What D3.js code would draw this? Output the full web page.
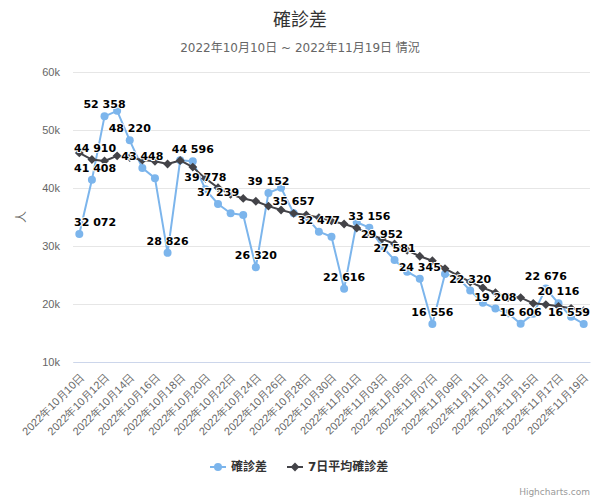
<!DOCTYPE html>
<html><head><meta charset="utf-8">
<script src="https://cdn.jsdelivr.net/npm/d3@7"></script>
<style>
body{margin:0;background:#fff;}
svg{display:block;font-family:"DejaVu Sans","Noto Sans CJK TC",sans-serif;}
</style></head><body>
<svg id="c" width="600" height="500"></svg>
<script>
const categories = ["2022年10月10日","2022年10月11日","2022年10月12日","2022年10月13日","2022年10月14日","2022年10月15日","2022年10月16日","2022年10月17日","2022年10月18日","2022年10月19日","2022年10月20日","2022年10月21日","2022年10月22日","2022年10月23日","2022年10月24日","2022年10月25日","2022年10月26日","2022年10月27日","2022年10月28日","2022年10月29日","2022年10月30日","2022年10月31日","2022年11月01日","2022年11月02日","2022年11月03日","2022年11月04日","2022年11月05日","2022年11月06日","2022年11月07日","2022年11月08日","2022年11月09日","2022年11月10日","2022年11月11日","2022年11月12日","2022年11月13日","2022年11月14日","2022年11月15日","2022年11月16日","2022年11月17日","2022年11月18日","2022年11月19日"];
const daily = [32072,41408,52358,53300,48220,43448,41700,28826,44800,44596,39778,37239,35640,35345,26320,39152,40050,35657,35000,32477,31600,22616,34090,33156,29952,27581,25570,24345,16556,25170,24600,22320,20224,19208,18400,16606,18300,22676,20116,17810,16559];
const avg7 = [46050,44910,44655,45550,45250,44828,44600,44130,44750,43600,41650,40050,38900,38200,37720,36880,36210,35630,35350,34900,34320,33790,33100,32100,31230,30350,29250,28230,27450,26100,24950,23800,22800,21950,21100,21100,20120,19900,19600,19250,18850];
const dailyLabelIdx = [0,1,2,4,5,7,9,10,11,14,15,17,19,21,23,24,25,27,28,31,33,35,37,38,40];
const avgLabelIdx = [1];
const yTicks = [10000,20000,30000,40000,50000,60000];
const seriesNames = ["確診差","7日平均確診差"];
const titleText = "確診差";
const subtitleText = "2022年10月10日 ~ 2022年11月19日 情況";
const yTitle = "人";

const svg = d3.select("#c");
const L = 73, R = 590, T = 72, B = 362;
const x = d3.scalePoint().domain(categories).range([L, R]).padding(0.5);
const y = d3.scaleLinear().domain([10000, 60000]).range([B, T]);
const c1 = "#7cb5ec", c2 = "#434348";

svg.append("text").attr("x", 300).attr("y", 26).attr("text-anchor", "middle")
  .attr("fill", "#333").style("font-size", "18px").text(titleText);
svg.append("text").attr("x", 300).attr("y", 52).attr("text-anchor", "middle")
  .attr("fill", "#666").style("font-size", "12px").text(subtitleText);

// grid + y axis
const yAxis = d3.axisLeft(y).tickValues(yTicks).tickSize(-(R - L)).tickFormat(d => (d / 1000) + "k");
const gy = svg.append("g").attr("transform", `translate(${L},0)`).call(yAxis);
gy.select(".domain").remove();
gy.selectAll(".tick line").attr("stroke", "#e6e6e6");
gy.selectAll(".tick text").attr("fill", "#666").style("font-size", "11px").attr("x", -13);
svg.append("text").attr("transform", `translate(26,${(T + B) / 2}) rotate(-90)`)
  .attr("text-anchor", "middle").attr("fill", "#666").style("font-size", "12px").text(yTitle);

// x axis
const xAxis = d3.axisBottom(x).tickSize(0).tickValues(categories.filter((d, i) => i % 2 === 0));
const gx = svg.append("g").attr("transform", `translate(0,${B})`).call(xAxis);
gx.select(".domain").attr("stroke", "#ccd6eb");
gx.selectAll(".tick text").attr("fill", "#666").style("font-size", "11px")
  .attr("text-anchor", "end").attr("dy", null).attr("y", 0)
  .attr("transform", "translate(5,16) rotate(-45)");

function drawSeries(vals, color, shape) {
  const line = d3.line().x((d, i) => x(categories[i])).y(d => y(d));
  svg.append("path").datum(vals).attr("d", line).attr("fill", "none")
    .attr("stroke", color).attr("stroke-width", 2).attr("stroke-linejoin", "round");
  const g = svg.append("g");
  if (shape === "circle") {
    g.selectAll("circle").data(vals).join("circle")
      .attr("cx", (d, i) => x(categories[i])).attr("cy", d => y(d)).attr("r", 4).attr("fill", color);
  } else {
    g.selectAll("path").data(vals).join("path")
      .attr("d", d3.symbol(d3.symbolDiamond2, 50))
      .attr("transform", (d, i) => `translate(${x(categories[i])},${y(d)})`).attr("fill", color);
  }
}
drawSeries(daily, c1, "circle");
drawSeries(avg7, c2, "diamond");

const fmt = v => d3.format(",")(v).replace(/,/g, " ");
function labels(vals, idx) {
  idx.forEach(i => {
    const t = svg.append("text").attr("y", y(vals[i]) - 8).attr("text-anchor", "middle")
      .style("font-size", "11px").style("font-weight", "bold").attr("fill", "#000")
      .attr("stroke", "#fff").attr("stroke-width", 2).attr("stroke-linejoin", "round")
      .style("paint-order", "stroke").text(fmt(vals[i]));
    const w = t.node().getComputedTextLength();
    let cx = x(categories[i]);
    cx = Math.max(L + w / 2 + 1, Math.min(R - w / 2, cx));
    t.attr("x", cx);
  });
}
labels(daily, dailyLabelIdx);
labels(avg7, avgLabelIdx);

// legend
const lg = svg.append("g");
const ly = 467;
lg.append("line").attr("x1", 210).attr("x2", 226).attr("y1", ly).attr("y2", ly).attr("stroke", c1).attr("stroke-width", 2);
lg.append("circle").attr("cx", 218).attr("cy", ly).attr("r", 4).attr("fill", c1);
lg.append("text").attr("x", 231).attr("y", ly + 4).attr("fill", "#333").style("font-size", "12px").style("font-weight", "bold").text(seriesNames[0]);
lg.append("line").attr("x1", 287).attr("x2", 303).attr("y1", ly).attr("y2", ly).attr("stroke", c2).attr("stroke-width", 2);
lg.append("path").attr("d", d3.symbol(d3.symbolDiamond2, 50)).attr("transform", `translate(295,${ly})`).attr("fill", c2);
lg.append("text").attr("x", 308).attr("y", ly + 4).attr("fill", "#333").style("font-size", "12px").style("font-weight", "bold").text(seriesNames[1]);

svg.append("text").attr("x", 590).attr("y", 495).attr("text-anchor", "end")
  .attr("fill", "#999").style("font-size", "9px").text("Highcharts.com");
</script>
</body></html>
